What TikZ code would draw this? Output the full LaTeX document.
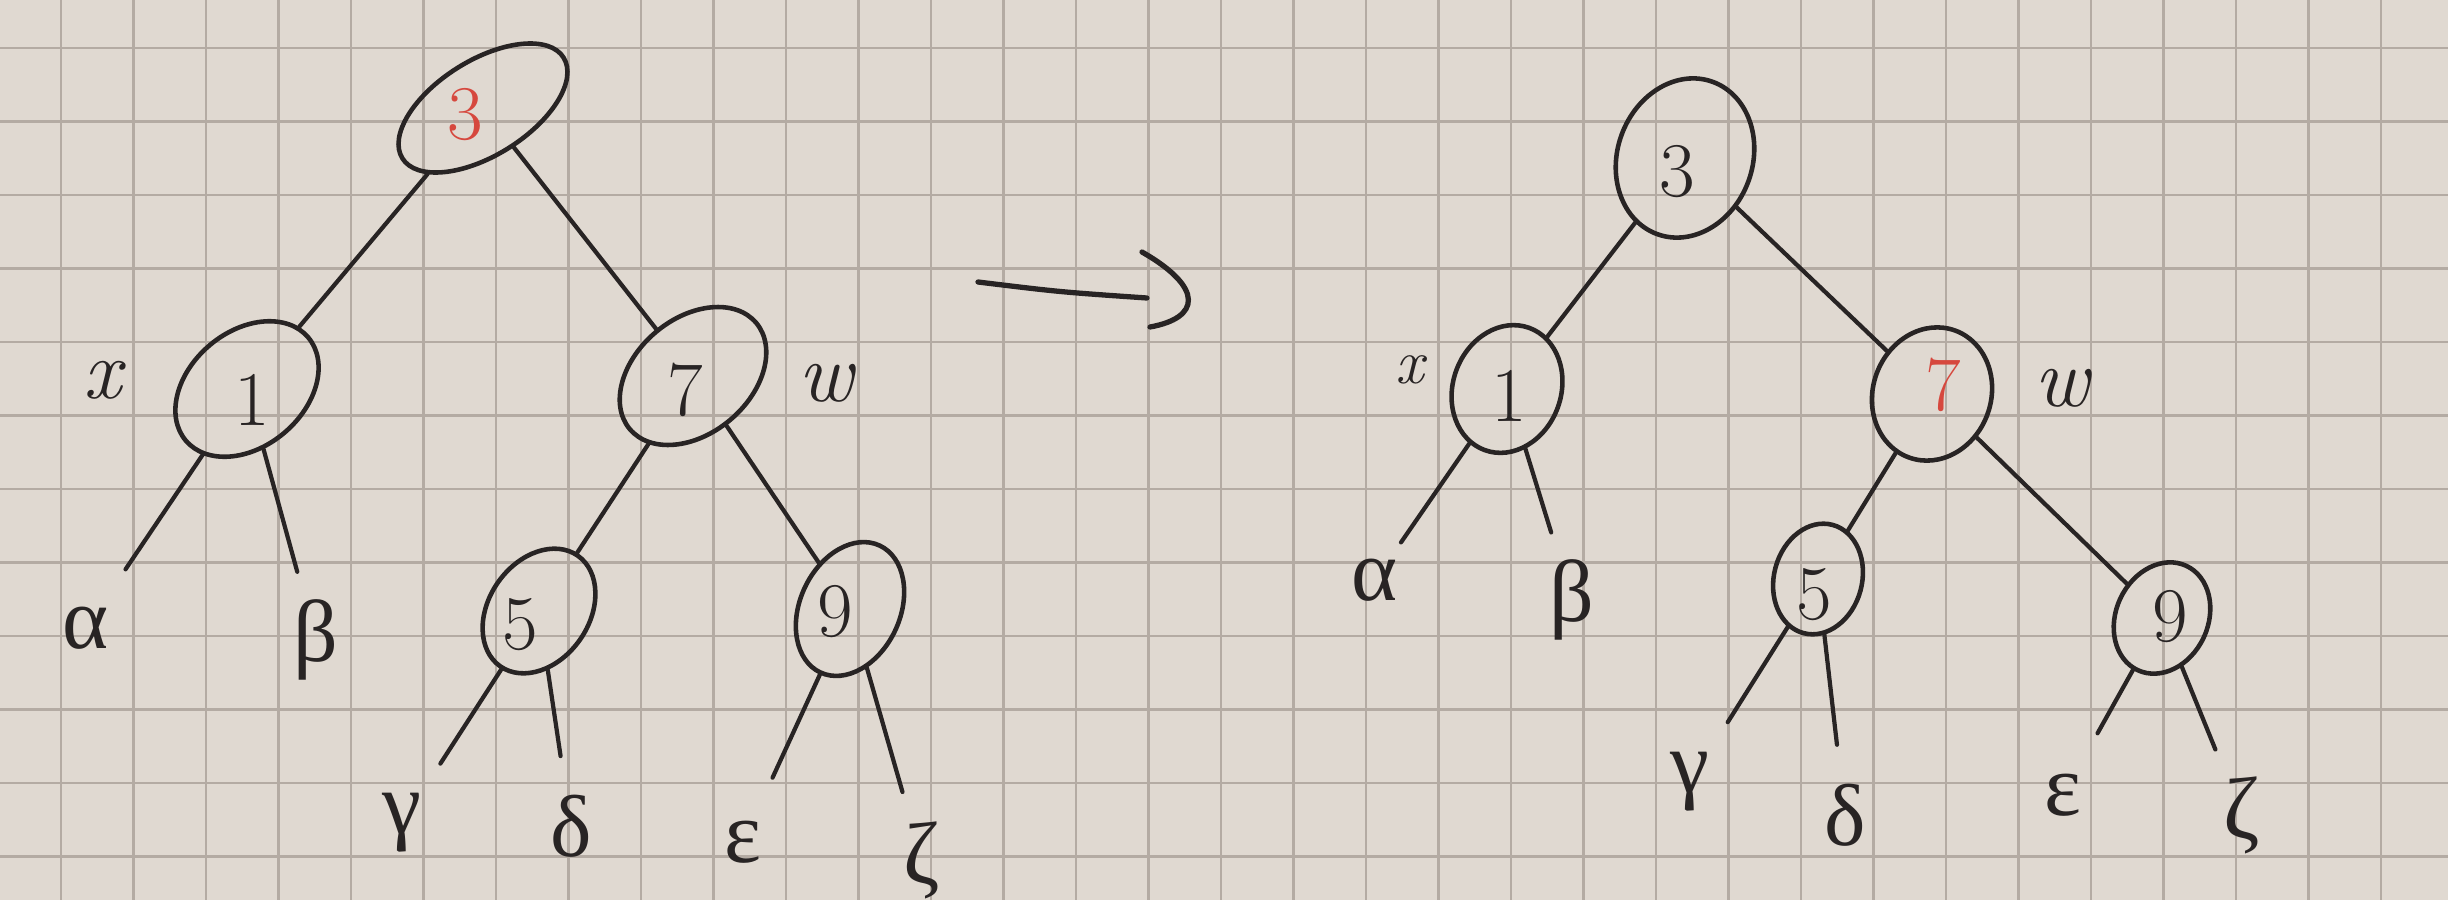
\documentclass[tikz,border=0pt]{standalone}
\usepackage{fontspec}
\newfontfamily\greekf{Liberation Serif}
\usetikzlibrary{shapes.geometric}
\definecolor{paper}{RGB}{224,217,209}
\definecolor{gridc}{RGB}{180,171,163}
\definecolor{ink}{RGB}{40,36,36}
\definecolor{redink}{RGB}{214,72,62}
\begin{document}
\begin{tikzpicture}[x=0.01cm,y=-0.01cm,
  ell/.style={ellipse,draw=ink,line width=1.3pt,inner sep=0pt},
  num/.style={font=\fontsize{22}{24}\selectfont,text=ink,inner sep=0pt},
  rednum/.style={num,text=redink},
  leaf/.style={circle,inner sep=0pt,minimum size=1.4cm,font=\greekf\fontsize{25}{27}\selectfont,text=ink},
  lab/.style={font=\itshape\fontsize{24}{26}\selectfont,text=ink,inner sep=0pt},
  slab/.style={font=\itshape\fontsize{18}{20}\selectfont,text=ink,inner sep=0pt},
  edge/.style={draw=ink,line width=1.2pt,line cap=round},
  gridline/.style={draw=gridc,line width=0.6pt}]
% paper and grid
\fill[paper] (0,0) rectangle (2448,900);
\useasboundingbox (0,0) rectangle (2448,900);
\foreach \i in {0,...,33} {\draw[gridline] (61+72.5*\i,0) -- (61+72.5*\i,900);}
\foreach \j in {0,...,12} {\draw[gridline] (0,48+73.5*\j) -- (2448,48+73.5*\j);}

% ---------------- left tree ----------------
\node[ell,minimum width=1.9cm,minimum height=0.95cm,rotate=32] (L3) at (483,108) {};
\node[rednum] (L3n) at (465,115) {3};
\node[ell,minimum width=1.6cm,minimum height=1.15cm,rotate=40] (L1) at (247,389) {};
\node[num] (L1n) at (252,400) {1};
\node[ell,minimum width=1.65cm,minimum height=1.15cm,rotate=40] (L7) at (693,376) {};
\node[num] (L7n) at (685,390) {7};
\node[ell,minimum width=1.35cm,minimum height=1.0cm,rotate=55] (L5) at (539,611) {};
\node[num] (L5n) at (520,625) {5};
\node[ell,minimum width=1.4cm,minimum height=1.0cm,rotate=65] (L9) at (850,609) {};
\node[num] (L9n) at (835,612) {9};
\node[lab] (Lx) at (102,380) {x};
\node[lab] (Lw) at (826,383) {w};
\node[leaf] (La) at (86,628) {α};
\node[leaf] (Lb) at (316,640) {β};
\node[leaf] (Lg) at (402,823) {γ};
\node[leaf] (Ld) at (571,826) {δ};
\node[leaf] (Le) at (743,842) {ε};
\node[leaf] (Lz) at (922,860) {ζ};
\draw[edge] (L3) -- (L1);
\draw[edge] (L3) -- (L7);
\draw[edge] (L1) -- (La);
\draw[edge] (L1) -- (Lb);
\draw[edge] (L7) -- (L5);
\draw[edge] (L7) -- (L9);
\draw[edge] (L5) -- (Lg);
\draw[edge] (L5) -- (Ld);
\draw[edge] (L9) -- (Le);
\draw[edge] (L9) -- (Lz);

% ---------------- arrow ----------------
\coordinate (A1) at (978,282);
\coordinate (A2) at (1147,298);
\coordinate (T1) at (1142,252);
\coordinate (T2) at (1150,327);
\draw[edge,line width=1.5pt] (A1) .. controls (1060,292) .. (A2);
\draw[edge,line width=1.5pt] (T1) .. controls (1205,288) and (1200,318) .. (T2);

% ---------------- right tree ----------------
\node[ell,minimum width=1.62cm,minimum height=1.35cm,rotate=70] (R3) at (1685,158) {};
\node[num] (R3n) at (1677,172) {3};
\node[ell,minimum width=1.3cm,minimum height=1.08cm,rotate=70] (R1) at (1507,389) {};
\node[num] (R1n) at (1509,396) {1};
\node[ell,minimum width=1.35cm,minimum height=1.18cm,rotate=70] (R7) at (1932,394) {};
\node[rednum] (R7n) at (1943,385) {7};
\node[ell,minimum width=1.12cm,minimum height=0.88cm,rotate=75] (R5) at (1818,579) {};
\node[num] (R5n) at (1814,595) {5};
\node[ell,minimum width=1.15cm,minimum height=0.92cm,rotate=65] (R9) at (2162,618) {};
\node[num] (R9n) at (2170,617) {9};
\node[slab] (Rx) at (1410,370) {x};
\node[lab] (Rw) at (2062,388) {w};
\node[leaf] (Ra) at (1375,580) {α};
\node[leaf] (Rb) at (1572,600) {β};
\node[leaf] (Rg) at (1690,782) {γ};
\node[leaf] (Rd) at (1845,815) {δ};
\node[leaf] (Re) at (2063,795) {ε};
\node[leaf] (Rz) at (2242,815) {ζ};
\draw[edge] (R3) -- (R1);
\draw[edge] (R3) -- (R7);
\draw[edge,shorten >=-0.25cm] (R1) -- (Ra);
\draw[edge] (R1) -- (Rb);
\draw[edge] (R7) -- (R5);
\draw[edge] (R7) -- (R9);
\draw[edge] (R5) -- (Rg);
\draw[edge] (R5) -- (Rd);
\draw[edge] (R9) -- (Re);
\draw[edge] (R9) -- (Rz);
\end{tikzpicture}
\end{document}
